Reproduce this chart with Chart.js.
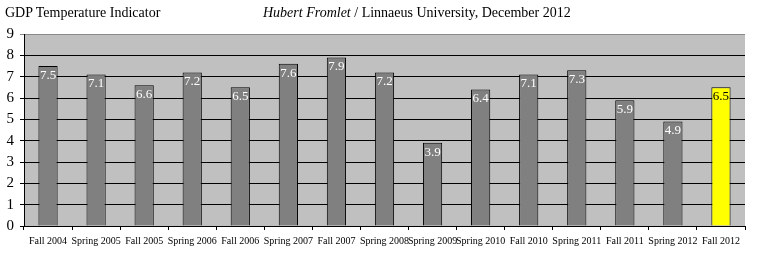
<!DOCTYPE html>
<html>
<head>
<meta charset="utf-8">
<script src="https://cdn.jsdelivr.net/npm/chart.js@4/dist/chart.umd.min.js"></script>
<style>
  html, body { margin: 0; padding: 0; background: #fff; }
  #wrap { position: relative; width: 760px; height: 269px; }
  .title { position: absolute; font-family: "Liberation Serif", serif; font-size: 14px; color: #000; white-space: nowrap; }
  #t1 { left: 5px; top: 5px; }
  #t2 { left: 263px; top: 5px; }
</style>
</head>
<body>
<div id="wrap">
  <canvas id="chart" width="760" height="269"></canvas>
  <div class="title" id="t1">GDP Temperature Indicator</div>
  <div class="title" id="t2"><i>Hubert Fromlet</i> / Linnaeus University, December 2012</div>
</div>
<script>
const periods = ['Fall 2004', 'Spring 2005', 'Fall 2005', 'Spring 2006', 'Fall 2006', 'Spring 2007', 'Fall 2007',
  'Spring 2008', 'Spring 2009', 'Spring 2010', 'Fall 2010', 'Spring 2011', 'Fall 2011', 'Spring 2012', 'Fall 2012'];
const indicator = [7.5, 7.1, 6.6, 7.2, 6.5, 7.6, 7.9, 7.2, 3.9, 6.4, 7.1, 7.3, 5.9, 4.9, 6.5];
const yTicks = [0, 1, 2, 3, 4, 5, 6, 7, 8, 9];

const serif = '"Liberation Serif", "DejaVu Serif", serif';
const barColors = indicator.map((v, i) => i === indicator.length - 1 ? '#ffff00' : '#808080');

// grey plot background
const plotBg = {
  id: 'plotBg',
  beforeDraw(chart) {
    const a = chart.chartArea, ctx = chart.ctx;
    ctx.save();
    ctx.fillStyle = '#c0c0c0';
    ctx.fillRect(a.left, a.top, a.right - a.left, a.bottom - a.top);
    ctx.restore();
  }
};

// values written inside the top of each bar
const barLabels = {
  id: 'barLabels',
  afterDatasetsDraw(chart) {
    const ctx = chart.ctx;
    const meta = chart.getDatasetMeta(0);
    ctx.save();
    ctx.font = '13px ' + serif;
    ctx.textAlign = 'center';
    ctx.textBaseline = 'top';
    meta.data.forEach((bar, i) => {
      ctx.fillStyle = i === indicator.length - 1 ? '#000' : '#fff';
      ctx.fillText(indicator[i].toFixed(1), bar.x, bar.y + 3);
    });
    ctx.restore();
  }
};

new Chart(document.getElementById('chart'), {
  type: 'bar',
  data: {
    labels: periods,
    datasets: [{
      data: indicator,
      backgroundColor: barColors,
      borderColor: '#000',
      borderWidth: 1,
      categoryPercentage: 1,
      barPercentage: 0.4
    }]
  },
  options: {
    responsive: false,
    animation: false,
    layout: { padding: { top: 34, right: 15, left: 0, bottom: 0 } },
    plugins: { legend: { display: false }, tooltip: { enabled: false } },
    scales: {
      x: {
        offset: true,
        grid: { offset: true, drawOnChartArea: false, drawTicks: true, tickLength: 4, color: '#000' },
        border: { color: '#000' },
        ticks: { autoSkip: false, maxRotation: 0, minRotation: 0, color: '#000', padding: 5, font: { family: serif, size: 10 } },
        afterFit(scale) { scale.height = 43; }
      },
      y: {
        min: 0,
        max: 9,
        afterBuildTicks(scale) { scale.ticks = yTicks.map(v => ({ value: v })); },
        grid: {
          color: ctx => ctx.tick && ctx.tick.value === 9 ? '#8a8a8a' : '#000',
          tickLength: 4
        },
        border: { color: '#000' },
        ticks: { color: '#000', padding: 6, font: { family: serif, size: 15 } },
        afterFit(scale) { scale.width = 24; }
      }
    }
  },
  plugins: [plotBg, barLabels]
});
</script>
</body>
</html>
